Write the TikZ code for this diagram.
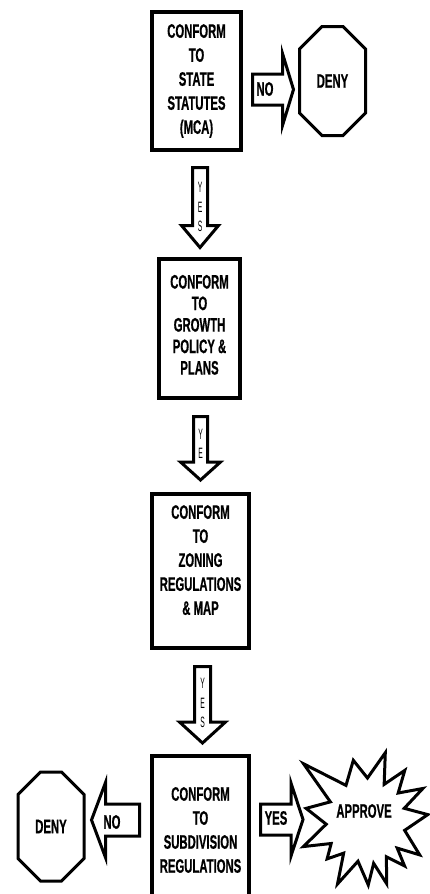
\documentclass[tikz,border=0pt]{standalone}
\usepackage{fontspec}
\newfontfamily\condfont{Liberation Sans}[FakeStretch=0.58,FakeBold=0.6]
\newfontfamily\thinfont{Liberation Sans}[FakeStretch=0.45]
\usetikzlibrary{shapes.misc,calc}

\begin{document}
\begin{tikzpicture}[x=1pt,y=1pt,
  box/.style={draw,line width=4pt,align=center,inner sep=0pt,
    font=\condfont\bfseries\fontsize{19.5}{24}\selectfont},
  deny/.style={draw,line width=3pt,chamfered rectangle,
    chamfered rectangle xsep=17pt,chamfered rectangle ysep=30pt,
    inner sep=0pt,font=\condfont\bfseries\fontsize{19.5}{24}\selectfont},
  blockarrow/.style={draw,line width=3pt,fill=white,line join=miter},
  word/.style={inner sep=0pt,font=\condfont\bfseries\fontsize{19.5}{24}\selectfont},
  letters/.style={inner sep=0pt,align=center,
    font=\thinfont\fontsize{15}{19.5}\selectfont}]

  \useasboundingbox (0,0) rectangle (430,-894);
  \clip (0,0) rectangle (430,-894);

  % boxes
  \node[box,minimum width=89,minimum height=138] (b1) at (196.5,-81)
    {CONFORM\\TO\\STATE\\STATUTES\\(MCA)};
  \node[box,minimum width=81,minimum height=139,
    font=\condfont\bfseries\fontsize{19.5}{21.5}\selectfont] (b2) at (199.5,-328.5)
    {CONFORM\\TO\\GROWTH\\POLICY \&\\PLANS\\[-14pt]};
  \node[box,minimum width=97,minimum height=154] (b3) at (200.5,-571)
    {CONFORM\\TO\\ZONING\\REGULATIONS\\\& MAP\\[-2pt]};
  \node[box,minimum width=97,minimum height=148] (b4) at (200.5,-830)
    {CONFORM\\TO\\SUBDIVISION\\REGULATIONS};

  % end points
  \node[deny,minimum width=66,minimum height=109] (deny1) at (332.5,-81) {DENY};
  \node[deny,minimum width=66,minimum height=109] (deny2) at (51,-826.5) {DENY};
  \node[word] (approve) at (364,-811) {APPROVE};
  \draw[line width=3pt,line join=miter,shift={(366,-820)}] (5:62)
    \foreach \a/\r in {17/40,29/65,40/42,52/63,63/40,74/70,88/42,102/61,
      120/40,138/84,153/40,169/61,186/40,203/68,214/42,225/55,236/40,
      246/70,259/42,272/65,280/44,288/67,299/42,310/60,318/42,327/64,345/40}
    { -- (\a:\r) } -- cycle;

  % yes arrows down
  \draw[blockarrow] ([shift={(3.5,-15.5)}]b1.south) ++(-7.5,0) -- ++(15,0)
    -- ++(0,-58) -- ++(11,0) -- ++(-18.5,-22) -- ++(-18.5,22) -- ++(11,0) -- cycle;
  \node[letters] (yes1) at (200,-207) {Y\\E\\S};

  \draw[blockarrow] ([shift={(1,-16.5)}]b2.south) ++(-7,0) -- ++(14,0)
    -- ++(0,-45.5) -- ++(13,0) -- ++(-20,-18) -- ++(-20,18) -- ++(13,0) -- cycle;
  \node[letters] (yes2) at (200.5,-444) {Y\\E};

  \draw[blockarrow] ([shift={(2,-16.5)}]b3.south) ++(-8,0) -- ++(16,0)
    -- ++(0,-55.5) -- ++(15,0) -- ++(-23,-21) -- ++(-23,21) -- ++(15,0) -- cycle;
  \node[letters] (yes3) at (202.5,-703) {Y\\E\\S};

  % side arrows
  \draw[blockarrow] ([shift={(9.5,-8.5)}]b1.east) -- ++(0,15.5) -- ++(30,0)
    -- ++(0,20.5) -- ++(11,-36) -- ++(-11,-36) -- ++(0,20.5) -- ++(-30,0) -- cycle;
  \node[word] (no1) at (265,-89) {NO};

  \draw[blockarrow] ([shift={(-10.5,10)}]b4.west) -- ++(0,16) -- ++(-34,0)
    -- ++(0,21.5) -- ++(-14,-37.5) -- ++(14,-37.5) -- ++(0,21.5) -- ++(34,0) -- cycle;
  \node[word] (no2) at (112,-822) {NO};

  \draw[blockarrow] ([shift={(9.5,10.5)}]b4.east) -- ++(0,15.5) -- ++(30.5,0)
    -- ++(0,21) -- ++(12,-36.5) -- ++(-12,-36.5) -- ++(0,21) -- ++(-30.5,0) -- cycle;
  \node[word] (yes4) at (276,-818) {YES};

\end{tikzpicture}
\end{document}
